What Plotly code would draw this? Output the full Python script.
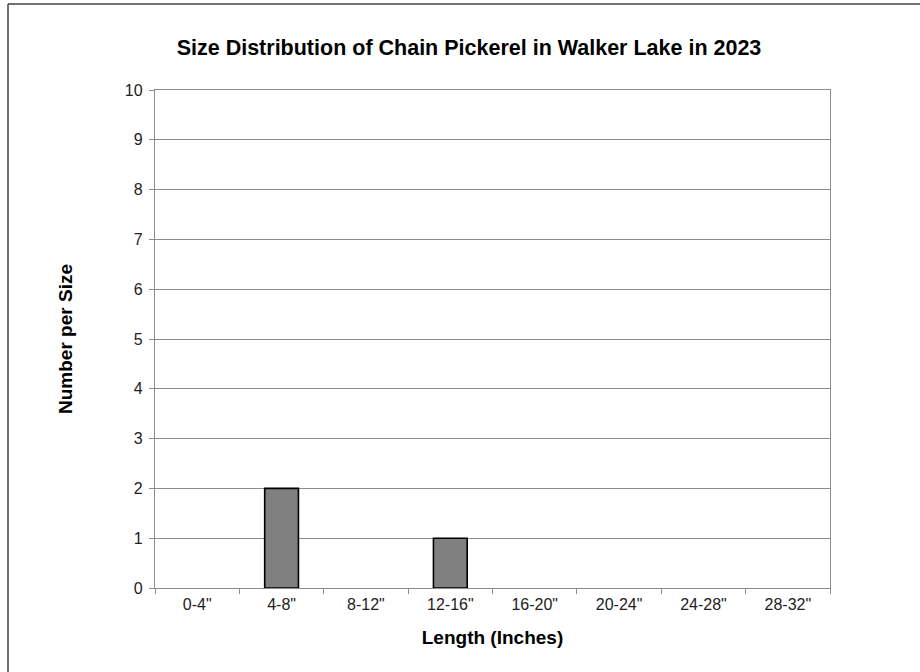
import plotly.graph_objects as go

# Chain pickerel catch by length class
length_classes = ['0-4"', '4-8"', '8-12"', '12-16"', '16-20"', '20-24"', '24-28"', '28-32"']
fish_counts = [0, 2, 0, 1, 0, 0, 0, 0]
y_ticks = list(range(0, 11))

FONT = "Liberation Sans, Arial, sans-serif"
GRID = "#8c8c8c"

# Empty classes get no outline so they don't leave a stub on the baseline
outline_widths = [1.6 if v > 0 else 0 for v in fish_counts]

fig = go.Figure(
    go.Bar(
        x=length_classes,
        y=fish_counts,
        width=0.4,
        marker=dict(color="#808080", line=dict(color="#000000", width=outline_widths)),
        hoverinfo="x+y",
    )
)

# Frame lines along the top and left edges of the page
L, T, PW, PH = 155, 90, 675, 498
frame_x = (8 - L) / PW
frame_y = 1 + (T - 4) / PH
fig.add_shape(type="line", xref="paper", yref="paper", x0=frame_x, x1=2, y0=frame_y, y1=frame_y,
              line=dict(color="#404040", width=1.5))
fig.add_shape(type="line", xref="paper", yref="paper", x0=frame_x, x1=frame_x, y0=-2, y1=frame_y,
              line=dict(color="#404040", width=1.5))

fig.update_layout(
    width=920,
    height=672,
    margin=dict(l=L, r=920 - L - PW, t=T, b=672 - T - PH),
    paper_bgcolor="white",
    plot_bgcolor="white",
    showlegend=False,
    title=dict(
        text="<b>Size Distribution of Chain Pickerel in Walker Lake in 2023</b>",
        x=469 / 920,
        xanchor="center",
        y=1 - 47 / 672,
        yanchor="middle",
        font=dict(family=FONT, size=21.5, color="#000000"),
    ),
    font=dict(family=FONT, size=16, color="#222222"),
    bargap=0.6,
)

fig.update_xaxes(
    type="category",
    showline=True,
    linecolor=GRID,
    linewidth=1.3,
    mirror=True,
    ticks="outside",
    tickson="boundaries",
    ticklen=5,
    tickcolor=GRID,
    showgrid=False,
    ticklabelstandoff=2,
    tickfont=dict(family=FONT, size=16, color="#222222"),
    title=dict(text="<b>Length (Inches)</b>", font=dict(family=FONT, size=19, color="#000000"), standoff=18),
)

fig.update_yaxes(
    range=[0, 10],
    tickvals=y_ticks,
    showline=True,
    linecolor=GRID,
    linewidth=1.3,
    mirror=True,
    ticks="outside",
    ticklen=5,
    tickcolor=GRID,
    showgrid=True,
    gridcolor=GRID,
    gridwidth=1,
    zeroline=False,
    ticklabelstandoff=3,
    tickfont=dict(family=FONT, size=16, color="#222222"),
    title=dict(text="<b>Number per Size</b>", font=dict(family=FONT, size=19, color="#000000"), standoff=47),
)

fig.write_html("out.html")
